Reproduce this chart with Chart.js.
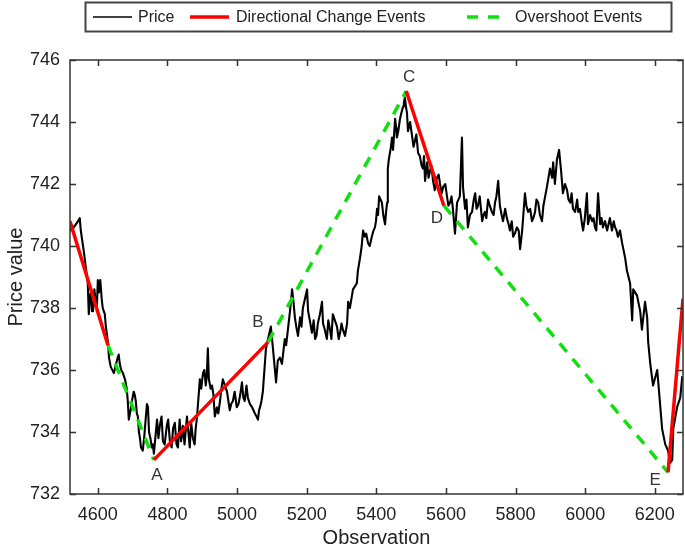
<!DOCTYPE html>
<html>
<head>
<meta charset="utf-8">
<script src="https://cdn.jsdelivr.net/npm/chart.js@4.4.1/dist/chart.umd.min.js"></script>
<style>
  html, body { margin: 0; padding: 0; background: #ffffff; }
  #wrap { width: 685px; height: 550px; }
</style>
</head>
<body>
<div id="wrap"><canvas id="c" width="685" height="550"></canvas></div>
<script>
// ---- Data ----
const xTicks = [4600, 4800, 5000, 5200, 5400, 5600, 5800, 6000, 6200];
const yTicks = [732, 734, 736, 738, 740, 742, 744, 746];

// main trace of the price series
const priceObs = [
  4520, 4522, 4531, 4543, 4548, 4551, 4560, 4571, 4574, 4580, 4586, 4594, 4600, 4603, 4611, 4617, 4623, 4629,
  4632, 4637, 4646, 4657, 4660, 4663, 4672, 4678, 4686, 4689, 4698, 4703, 4709, 4715, 4718, 4724, 4729, 4738,
  4744, 4747, 4755, 4761, 4770, 4778, 4787, 4798, 4807, 4821, 4830, 4844, 4856, 4864, 4873, 4885, 4893, 4902,
  4910, 4916, 4919, 4928, 4936, 4942, 4951, 4959, 4971, 4979, 4988, 4999, 5014, 5022, 5031, 5043, 5051, 5060,
  5066, 5074, 5083, 5089, 5097, 5103, 5112, 5117, 5123, 5129, 5137, 5146, 5158, 5166, 5175, 5181, 5189, 5201,
  5204, 5215, 5224, 5232, 5244, 5247, 5258, 5267, 5275, 5287, 5296, 5304, 5316, 5319, 5330, 5333, 5344, 5347,
  5353, 5362, 5367, 5376, 5387, 5396, 5402, 5408, 5416, 5425, 5431, 5433, 5439, 5445, 5448, 5454, 5459, 5468,
  5477, 5482, 5488, 5491, 5502, 5511, 5520, 5525, 5534, 5540, 5546, 5554, 5563, 5574, 5583, 5592, 5603, 5612,
  5620, 5626, 5632, 5640, 5646, 5649, 5655, 5663, 5675, 5684, 5692, 5704, 5712, 5721, 5732, 5741, 5750, 5755,
  5764, 5775, 5784, 5793, 5804, 5813, 5819, 5827, 5836, 5847, 5856, 5865, 5876, 5885, 5890, 5899, 5905, 5908,
  5913, 5919, 5925, 5931, 5936, 5948, 5957, 5965, 5977, 5980, 5991, 5994, 6005, 6008, 6020, 6028, 6037, 6043,
  6051, 6063, 6071, 6077, 6086, 6094, 6106, 6115, 6120, 6129, 6135, 6138, 6149, 6158, 6163, 6172, 6178, 6181,
  6187, 6195, 6207, 6210, 6221, 6230, 6238, 6244, 6250, 6253, 6264, 6273, 6279
];
const priceVal = [
  740.5, 740.7, 740.6, 740.8, 740.9, 740.5, 739.8, 738.8, 737.8, 738.5, 737.9, 738.2, 738.9, 738.5, 738.3, 737.9, 737.4, 736.9,
  736.4, 736.1, 735.9, 736.4, 736.5, 736.2, 735.9, 735.7, 735.0, 734.4, 735.0, 735.3, 735.0, 734.5, 734.0, 733.5, 733.4, 734.5,
  734.8, 734.0, 733.5, 733.3, 734.4, 734.2, 733.7, 734.2, 733.7, 734.3, 733.5, 734.2, 734.5, 733.5, 733.8, 734.5, 735.7, 735.9,
  735.5, 736.7, 735.7, 735.5, 734.5, 734.8, 735.0, 735.7, 735.3, 734.7, 735.0, 734.8, 735.6, 735.0, 735.1, 734.8, 734.6, 734.4,
  734.8, 735.3, 736.7, 737.0, 737.4, 736.7, 735.6, 736.3, 736.4, 736.2, 737.0, 737.3, 738.6, 737.7, 737.1, 737.7, 738.0, 738.6,
  737.9, 737.2, 737.0, 737.5, 738.2, 737.5, 737.0, 737.3, 737.8, 737.4, 737.2, 737.3, 737.5, 738.2, 738.4, 738.6, 738.8, 739.2,
  739.6, 740.5, 740.3, 740.1, 740.3, 740.6, 741.2, 741.6, 741.4, 740.7, 741.4, 742.5, 743.0, 743.5, 743.1, 744.1, 743.5, 744.1,
  744.5, 744.8, 744.3, 743.7, 743.6, 743.4, 743.0, 742.9, 742.5, 742.1, 742.7, 742.4, 742.1, 742.2, 742.0, 741.9, 741.6, 741.4,
  741.2, 740.4, 741.4, 741.6, 743.5, 741.9, 741.2, 740.6, 741.1, 741.7, 741.3, 740.8, 741.1, 741.5, 741.1, 741.4, 742.1, 741.3,
  740.8, 740.9, 740.5, 740.3, 740.6, 739.9, 740.5, 741.7, 741.1, 740.8, 741.1, 741.4, 740.8, 741.6, 741.9, 742.5, 742.2, 742.7,
  742.0, 742.8, 743.1, 742.4, 741.7, 741.8, 741.4, 741.2, 741.5, 741.1, 740.7, 740.5, 741.7, 740.7, 740.8, 740.6, 741.7, 740.7,
  740.6, 740.5, 740.9, 740.5, 740.6, 740.3, 740.1, 739.6, 739.2, 738.8, 737.6, 738.6, 738.4, 737.9, 737.3, 738.2, 737.7, 736.9,
  736.2, 735.5, 736.0, 735.6, 734.1, 733.6, 733.4, 733.0, 733.1, 734.1, 734.8, 735.1, 735.8
];

// extra short-term wiggles of the price series, read from the noisy stretches
const priceDetailObs = [
  4577, 4583, 4590, 4597, 4607, 4614, 4620,
  4667, 4683, 4694, 4706, 4712, 4721, 4733, 4741, 4751, 4758,
  4774, 4783, 4792, 4802, 4812, 4816, 4826, 4835, 4839, 4849, 4860, 4868, 4878, 4881,
  4897, 4906, 4913, 4924, 4932, 4946, 4955, 4965, 4975, 4983, 4993, 5004, 5009, 5018, 5027, 5037, 5047, 5056, 5063, 5070,
  5141, 5152, 5162, 5170, 5185, 5195, 5209, 5220, 5228, 5238, 5252, 5262, 5271, 5281, 5292, 5300, 5310, 5324,
  5358, 5371, 5381, 5392, 5399, 5405, 5412, 5420, 5428, 5436, 5442, 5451, 5457, 5463, 5472, 5479, 5485,
  5497, 5507, 5515, 5530, 5537, 5550, 5558, 5568, 5579, 5588, 5598, 5607, 5616,
  5659, 5669, 5680, 5688, 5697, 5708, 5716, 5726, 5737, 5745, 5760, 5770, 5780, 5789, 5798, 5809, 5831, 5842, 5851, 5860, 5870, 5880,
  5942, 5952, 5961, 5971, 5985, 5999, 6014, 6024, 6032, 6047, 6057, 6067, 6082, 6090, 6100
];
const priceDetailVal = [
  738.4, 737.9, 738.6, 738.0, 738.9, 738.0, 737.8,
  736.0, 735.4, 734.7, 735.2, 734.6, 733.8, 733.8, 734.9, 733.8, 733.6,
  733.8, 734.5, 733.6, 734.4, 733.5, 734.1, 733.6, 734.4, 733.7, 733.6, 734.0, 734.3, 733.6, 734.1,
  735.4, 736.0, 735.8, 735.4, 735.2, 734.6, 735.4, 735.5, 735.0, 734.9, 735.3, 734.9, 735.2, 735.1, 735.5, 734.9, 734.7, 734.5, 734.7, 735.0,
  736.8, 737.9, 738.2, 737.4, 737.4, 738.3, 737.6, 737.6, 737.1, 737.8, 737.3, 737.6, 737.0, 737.6, 737.0, 737.5, 737.1, 738.0,
  740.0, 740.4, 740.0, 740.5, 740.8, 741.0, 741.5, 741.0, 741.1, 742.8, 743.2, 743.6, 743.8, 743.7, 744.3, 744.6, 744.5,
  744.0, 743.2, 743.6, 742.6, 742.9, 742.2, 742.6, 741.8, 742.3, 741.7, 742.0, 741.3, 741.6,
  741.5, 741.0, 741.5, 741.2, 741.6, 741.0, 740.9, 741.3, 741.0, 741.6, 741.0, 741.2, 740.7, 740.8, 740.4, 740.5, 741.3, 741.2, 740.9, 741.5, 741.0, 741.3,
  742.0, 741.5, 741.7, 741.1, 741.2, 740.9, 741.0, 740.9, 740.5, 740.9, 740.8, 740.7, 740.8, 740.5, 740.5
];

// Directional change events: start and end of each DC move
const dcStartObs = [4520, 4761, 5486, 6238];
const dcStartVal = [740.8, 733.1, 745.0, 732.7];
const dcEndObs = [4629, 5089, 5594, 6281];
const dcEndVal = [736.8, 736.9, 741.3, 738.3];

// Event point labels
const eventNames = ['A', 'B', 'C', 'D', 'E'];
const eventLabelObs = [4770, 5060, 5494, 5574, 6201];
const eventLabelVal = [732.6, 737.55, 745.45, 740.9, 732.45];

const legendNames = ['Price', 'Directional Change Events', 'Overshoot Events'];

// ---- Build datasets ----
const pricePoints = priceObs.map((x, i) => ({ x: x, y: priceVal[i] }))
  .concat(priceDetailObs.map((x, i) => ({ x: x, y: priceDetailVal[i] })))
  .sort((p, q) => p.x - q.x);
const dcPoints = [];
for (let i = 0; i < dcStartObs.length; i++) {
  dcPoints.push({ x: dcStartObs[i], y: dcStartVal[i] });
  dcPoints.push({ x: dcEndObs[i], y: dcEndVal[i] });
  dcPoints.push({ x: dcEndObs[i], y: null });
}
const osPoints = [];
for (let i = 0; i < dcEndObs.length - 1; i++) {
  osPoints.push({ x: dcEndObs[i], y: dcEndVal[i] });
  osPoints.push({ x: dcStartObs[i + 1], y: dcStartVal[i + 1] });
  osPoints.push({ x: dcStartObs[i + 1], y: null });
}

const FONT = "'Liberation Sans', Arial, Helvetica, sans-serif";
const RED = '#ff0000';
const GREEN = '#10e010';

const decor = {
  id: 'decor',
  afterDatasetsDraw(chart) {
    const ctx = chart.ctx;
    const a = chart.chartArea;
    const xs = chart.scales.x, ys = chart.scales.y;
    ctx.save();
    ctx.strokeStyle = '#333333';
    ctx.lineWidth = 1.5;
    ctx.strokeRect(a.left, a.top, a.right - a.left, a.bottom - a.top);
    const tl = 6;
    ctx.beginPath();
    xTicks.forEach(v => {
      const px = Math.round(xs.getPixelForValue(v)) + 0.5;
      ctx.moveTo(px, a.bottom); ctx.lineTo(px, a.bottom - tl);
      ctx.moveTo(px, a.top); ctx.lineTo(px, a.top + tl);
    });
    yTicks.forEach(v => {
      const py = Math.round(ys.getPixelForValue(v)) + 0.5;
      ctx.moveTo(a.left, py); ctx.lineTo(a.left + tl, py);
      ctx.moveTo(a.right, py); ctx.lineTo(a.right - tl, py);
    });
    ctx.stroke();
    ctx.fillStyle = '#333333';
    ctx.font = '17px ' + FONT;
    ctx.textAlign = 'center';
    ctx.textBaseline = 'middle';
    eventNames.forEach((n, i) => {
      ctx.fillText(n, xs.getPixelForValue(eventLabelObs[i]), ys.getPixelForValue(eventLabelVal[i]));
    });
    ctx.restore();
  },
  afterDraw(chart) {
    const ctx = chart.ctx;
    ctx.save();
    ctx.strokeStyle = '#444444';
    ctx.lineWidth = 2;
    ctx.strokeRect(85.5, 2.5, 586, 29);
    const cy = 17;
    ctx.lineCap = 'butt';
    ctx.strokeStyle = '#000000'; ctx.lineWidth = 1.5;
    ctx.beginPath(); ctx.moveTo(93, cy); ctx.lineTo(132, cy); ctx.stroke();
    ctx.strokeStyle = RED; ctx.lineWidth = 3.5;
    ctx.beginPath(); ctx.moveTo(190, cy); ctx.lineTo(229, cy); ctx.stroke();
    ctx.strokeStyle = GREEN; ctx.lineWidth = 3.5; ctx.setLineDash([11, 10]);
    ctx.beginPath(); ctx.moveTo(467, cy); ctx.lineTo(506, cy); ctx.stroke();
    ctx.setLineDash([]);
    ctx.fillStyle = '#222222';
    ctx.font = '16px ' + FONT;
    ctx.textAlign = 'left';
    ctx.textBaseline = 'middle';
    ctx.fillText(legendNames[0], 138, cy + 1);
    ctx.fillText(legendNames[1], 236, cy + 1);
    ctx.fillText(legendNames[2], 515, cy + 1);
    ctx.restore();
  }
};

new Chart(document.getElementById('c'), {
  type: 'line',
  data: {
    datasets: [
      { label: legendNames[1], data: dcPoints, borderColor: RED, borderWidth: 3.5, pointRadius: 0, spanGaps: false, order: 0, borderCapStyle: 'butt' },
      { label: legendNames[2], data: osPoints, borderColor: GREEN, borderWidth: 3.5, borderDash: [11, 9], pointRadius: 0, spanGaps: false, order: 1 },
      { label: legendNames[0], data: pricePoints, borderColor: '#000000', borderWidth: 2.1, pointRadius: 0, order: 2, borderJoinStyle: 'round' }
    ]
  },
  options: {
    responsive: false,
    animation: false,
    events: [],
    layout: { padding: { top: 60, right: 2, left: 0, bottom: 0 } },
    plugins: { legend: { display: false }, tooltip: { enabled: false } },
    scales: {
      x: {
        type: 'linear',
        min: 4520, max: 6281,
        afterBuildTicks: s => { s.ticks = xTicks.map(v => ({ value: v })); },
        afterFit: s => { s.height = 56; },
        grid: { display: false, drawTicks: false },
        border: { display: false },
        ticks: { padding: 10, color: '#222222', font: { family: FONT, size: 18 }, callback: v => String(v), maxRotation: 0, autoSkip: false },
        title: { display: true, text: 'Observation', color: '#222222', font: { family: FONT, size: 20 }, padding: { top: 0, bottom: 0 } }
      },
      y: {
        type: 'linear',
        min: 732, max: 746,
        afterBuildTicks: s => { s.ticks = yTicks.map(v => ({ value: v })); },
        afterFit: s => { s.width = 70; },
        grid: { display: false, drawTicks: false },
        border: { display: false },
        ticks: { padding: 10, color: '#222222', font: { family: FONT, size: 18 }, callback: v => String(v), autoSkip: false },
        title: { display: true, text: 'Price value', color: '#222222', font: { family: FONT, size: 20 }, padding: { top: 4, bottom: 0 } }
      }
    }
  },
  plugins: [decor]
});
</script>
</body>
</html>
